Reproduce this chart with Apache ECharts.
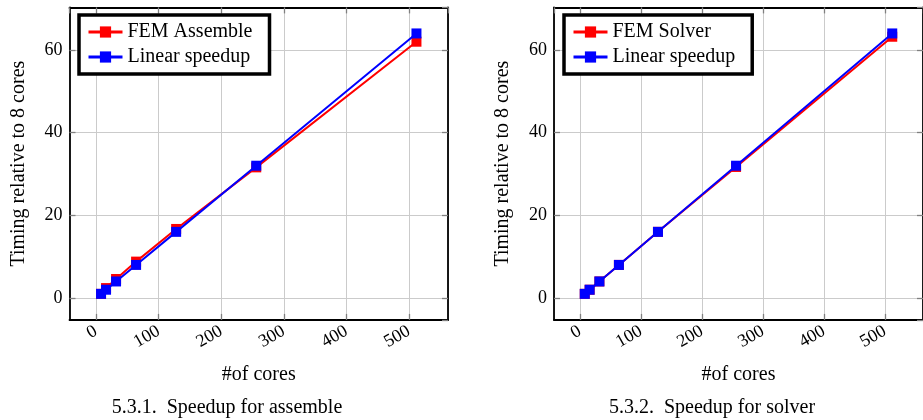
<!DOCTYPE html>
<html>
<head>
<meta charset="utf-8">
<script src="https://cdn.jsdelivr.net/npm/echarts@6/dist/echarts.min.js"></script>
<style>
  html, body { margin: 0; padding: 0; background: #fff; }
  #chart { width: 923px; height: 420px; }
</style>
</head>
<body>
<div id="chart"></div>
<script>
// cores (x) and speedup relative to 8 cores (y)
const cores = [8, 16, 32, 64, 128, 256, 512];
const linearSpeedup = [1, 2, 4, 8, 16, 32, 64];
const femAssemble = [1, 2.4, 4.6, 8.8, 16.7, 31.6, 62];
const femSolver = [1, 2, 4, 8, 16, 31.7, 63.2];

const captions = ['5.3.1.  Speedup for assemble', '5.3.2.  Speedup for solver'];
const femNames = ['FEM Assemble', 'FEM Solver'];

const FONT = '"Liberation Serif", "DejaVu Serif", serif';
const X_MIN = -42.4, X_MAX = 562.4;
const Y_MIN = -5.3, Y_MAX = 70.3;

const pairs = (ys) => cores.map((c, i) => [c, ys[i]]);

const grids = [
  { left: 69.5, top: 7.4, width: 378.5, height: 312.5 },
  { left: 554, top: 7.4, width: 379, height: 312.5 }
];

const tickStyle = { show: true, inside: true, length: 6, lineStyle: { color: '#808080', width: 1.3 } };
const boxLine = { show: true, onZero: false, lineStyle: { color: '#000', width: 1.8 } };

const xAxes = [], yAxes = [];
[0, 1].forEach(g => {
  xAxes.push({
    type: 'value', gridIndex: g, position: 'bottom', min: X_MIN, max: X_MAX, minInterval: 100, maxInterval: 100,
    name: '#of cores', nameLocation: 'middle', nameGap: 45,
    nameTextStyle: { fontFamily: FONT, fontSize: 20, color: '#000' },
    axisLine: boxLine, axisTick: tickStyle,
    axisLabel: { rotate: 30, margin: 10, fontFamily: FONT, fontSize: 18, color: '#000', showMinLabel: false, showMaxLabel: false },
    splitLine: { show: true, lineStyle: { color: '#cbcbcb', width: 1 } }
  });
  xAxes.push({
    type: 'value', gridIndex: g, position: 'top', min: X_MIN, max: X_MAX, minInterval: 100, maxInterval: 100,
    axisLine: boxLine, axisTick: tickStyle, axisLabel: { show: false }, splitLine: { show: false }
  });
  yAxes.push({
    type: 'value', gridIndex: g, position: 'left', min: Y_MIN, max: Y_MAX, minInterval: 20, maxInterval: 20,
    name: 'Timing relative to 8 cores', nameLocation: 'middle', nameGap: 41,
    nameTextStyle: { fontFamily: FONT, fontSize: 20, color: '#000' },
    axisLine: boxLine, axisTick: tickStyle,
    axisLabel: { margin: 7, fontFamily: FONT, fontSize: 18, color: '#000', showMinLabel: false, showMaxLabel: false },
    splitLine: { show: true, lineStyle: { color: '#cbcbcb', width: 1 } }
  });
  yAxes.push({
    type: 'value', gridIndex: g, position: 'right', min: Y_MIN, max: Y_MAX, minInterval: 20, maxInterval: 20,
    axisLine: boxLine, axisTick: tickStyle, axisLabel: { show: false }, splitLine: { show: false }
  });
});

const lineSeries = (name, ys, color, g, z) => ({
  name, type: 'line', data: pairs(ys), xAxisIndex: g * 2, yAxisIndex: g * 2,
  symbol: 'rect', symbolSize: 10, z,
  lineStyle: { color, width: 2 }, itemStyle: { color }
});

const series = [
  lineSeries(femNames[0], femAssemble, '#ff0000', 0, 2),
  lineSeries('Linear speedup', linearSpeedup, '#0000ff', 0, 3),
  lineSeries(femNames[1], femSolver, '#ff0000', 1, 2),
  lineSeries('Linear speedup', linearSpeedup, '#0000ff', 1, 3)
];

const legendBase = {
  orient: 'vertical', top: 15, itemWidth: 34, itemHeight: 14, itemGap: 5,
  backgroundColor: '#fff', borderColor: '#000', borderWidth: 3.5, padding: [7, 17, 7, 8],
  lineStyle: { width: 3 },
  textStyle: { fontFamily: FONT, fontSize: 20, color: '#000' },
  selectedMode: false
};

const captionStyle = { fontFamily: FONT, fontSize: 20, fontWeight: 'normal', color: '#000' };

const chart = echarts.init(document.getElementById('chart'), null, { renderer: 'canvas' });
chart.setOption({
  animation: false,
  backgroundColor: '#fff',
  grid: grids,
  xAxis: xAxes,
  yAxis: yAxes,
  legend: [
    Object.assign({}, legendBase, { left: 79, data: [femNames[0], 'Linear speedup'] }),
    Object.assign({}, legendBase, { left: 564, data: [femNames[1], 'Linear speedup'] })
  ],
  title: [
    { text: captions[0], left: 222, top: 393, textAlign: 'center', textStyle: captionStyle },
    { text: captions[1], left: 707, top: 393, textAlign: 'center', textStyle: captionStyle }
  ],
  series
});
</script>
</body>
</html>
